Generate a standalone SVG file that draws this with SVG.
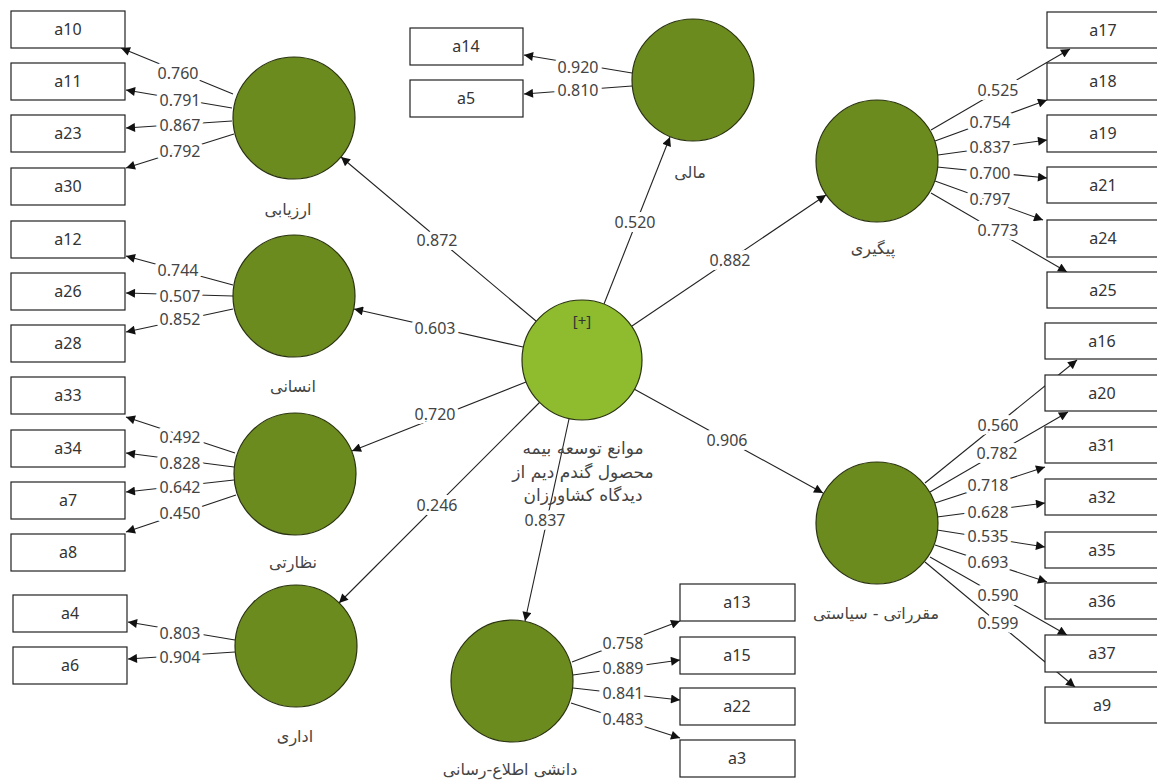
<svg xmlns="http://www.w3.org/2000/svg" width="1157" height="780" viewBox="0 0 1157 780">
<defs>
<marker id="ah" viewBox="0 0 10 10" refX="10" refY="5" markerWidth="10" markerHeight="9" markerUnits="userSpaceOnUse" orient="auto">
<path d="M0,0 L10,5 L0,10 z" fill="#111"/>
</marker>
<style>
text{font-family:"Noto Sans","DejaVu Sans",sans-serif;fill:#333;}
.box rect{fill:#fff;stroke:#222;stroke-width:1.2;}
.box text{font-size:16px;text-anchor:middle;}
.lv{fill:#6c8b1f;stroke:#2a3310;stroke-width:1.2;}
.ctr{fill:#8fbc2f;stroke:#2a3310;stroke-width:1.2;}
.nl{font-family:"DejaVu Sans",sans-serif;font-size:16px;text-anchor:middle;fill:#444;}
.cl{font-family:"DejaVu Sans",sans-serif;font-size:17px;text-anchor:middle;fill:#444;}
#connectors line{stroke:#222;stroke-width:1.1;marker-end:url(#ah);}
.w{font-size:16px;text-anchor:middle;fill:#444;stroke:#fff;stroke-width:8;paint-order:stroke;stroke-linejoin:round;}
</style>
</defs>
<rect width="1157" height="780" fill="#fff"/>

<g id="connectors">
<line x1="536" y1="321" x2="341" y2="157"/>
<line x1="523" y1="347" x2="354" y2="309"/>
<line x1="526" y1="382" x2="352" y2="451"/>
<line x1="540" y1="402" x2="339" y2="603"/>
<line x1="604" y1="304" x2="670" y2="137"/>
<line x1="632" y1="326" x2="826" y2="195"/>
<line x1="634" y1="389" x2="823" y2="493"/>
<line x1="569" y1="419" x2="525" y2="621"/>
<line x1="233" y1="94" x2="121" y2="48"/>
<line x1="232" y1="108" x2="126" y2="90"/>
<line x1="232" y1="121" x2="126" y2="128"/>
<line x1="234" y1="134" x2="126" y2="168"/>
<line x1="233" y1="285" x2="126" y2="256"/>
<line x1="233" y1="296" x2="126" y2="293"/>
<line x1="233" y1="309" x2="126" y2="332"/>
<line x1="235" y1="453" x2="126" y2="417"/>
<line x1="234" y1="467" x2="126" y2="453"/>
<line x1="234" y1="480" x2="126" y2="492"/>
<line x1="236" y1="495" x2="126" y2="532"/>
<line x1="235" y1="640" x2="128" y2="622"/>
<line x1="235" y1="652" x2="128" y2="659"/>
<line x1="632" y1="73" x2="524" y2="55"/>
<line x1="632" y1="86" x2="524" y2="94"/>
<line x1="572" y1="662" x2="680" y2="621"/>
<line x1="573" y1="675" x2="680" y2="660"/>
<line x1="573" y1="688" x2="680" y2="700"/>
<line x1="571" y1="703" x2="680" y2="738"/>
<line x1="931" y1="130" x2="1070" y2="49"/>
<line x1="935" y1="141" x2="1047" y2="100"/>
<line x1="938" y1="155" x2="1047" y2="140"/>
<line x1="937" y1="167" x2="1047" y2="178"/>
<line x1="935" y1="181" x2="1043" y2="220"/>
<line x1="931" y1="193" x2="1067" y2="272"/>
<line x1="925" y1="483" x2="1077" y2="360"/>
<line x1="930" y1="492" x2="1068" y2="412"/>
<line x1="935" y1="503" x2="1045" y2="467"/>
<line x1="937" y1="517" x2="1045" y2="503"/>
<line x1="937" y1="530" x2="1045" y2="547"/>
<line x1="935" y1="545" x2="1047" y2="582"/>
<line x1="930" y1="557" x2="1067" y2="635"/>
<line x1="925" y1="562" x2="1075" y2="687"/>
</g>

<g id="weights">
<text class="w" x="437" y="246">0.872</text>
<text class="w" x="435" y="334">0.603</text>
<text class="w" x="435" y="420">0.720</text>
<text class="w" x="437" y="511">0.246</text>
<text class="w" x="635" y="228">0.520</text>
<text class="w" x="730" y="266">0.882</text>
<text class="w" x="727" y="446">0.906</text>
<text class="w" x="545" y="526">0.837</text>
<text class="w" x="178" y="79">0.760</text>
<text class="w" x="180" y="106">0.791</text>
<text class="w" x="180" y="131">0.867</text>
<text class="w" x="180" y="157">0.792</text>
<text class="w" x="178" y="276">0.744</text>
<text class="w" x="180" y="302">0.507</text>
<text class="w" x="180" y="325">0.852</text>
<text class="w" x="180" y="443">0.492</text>
<text class="w" x="180" y="469">0.828</text>
<text class="w" x="180" y="493">0.642</text>
<text class="w" x="180" y="519">0.450</text>
<text class="w" x="180" y="639">0.803</text>
<text class="w" x="180" y="663">0.904</text>
<text class="w" x="578" y="73">0.920</text>
<text class="w" x="578" y="96">0.810</text>
<text class="w" x="623" y="649">0.758</text>
<text class="w" x="623" y="674">0.889</text>
<text class="w" x="623" y="699">0.841</text>
<text class="w" x="623" y="725">0.483</text>
<text class="w" x="998" y="96">0.525</text>
<text class="w" x="990" y="128">0.754</text>
<text class="w" x="990" y="153">0.837</text>
<text class="w" x="990" y="179">0.700</text>
<text class="w" x="990" y="205">0.797</text>
<text class="w" x="998" y="236">0.773</text>
<text class="w" x="998" y="431">0.560</text>
<text class="w" x="997" y="459">0.782</text>
<text class="w" x="988" y="491">0.718</text>
<text class="w" x="988" y="518">0.628</text>
<text class="w" x="988" y="542">0.535</text>
<text class="w" x="988" y="568">0.693</text>
<text class="w" x="998" y="601">0.590</text>
<text class="w" x="998" y="629">0.599</text>
</g>

<g id="n-center"><circle class="ctr" cx="582" cy="360" r="60"/><text x="582" y="326" style="font-size:15px;text-anchor:middle;fill:#333">[+]</text>
<text class="cl" x="583" y="454">موانع توسعه بیمه</text>
<text class="cl" x="583" y="478">محصول گندم دیم از</text>
<text class="cl" x="583" y="501">دیدگاه کشاورزان</text></g>
<g id="n-arzyabi"><circle class="lv" cx="294" cy="118" r="61"/><text class="nl" x="288" y="215">ارزیابی</text></g>
<g id="n-ensani"><circle class="lv" cx="294" cy="296" r="61"/><text class="nl" x="293" y="392">انسانی</text></g>
<g id="n-nezarati"><circle class="lv" cx="295" cy="474" r="61"/><text class="nl" x="293" y="568">نظارتی</text></g>
<g id="n-edari"><circle class="lv" cx="296" cy="646" r="61"/><text class="nl" x="295" y="742">اداری</text></g>
<g id="n-mali"><circle class="lv" cx="693" cy="80" r="61"/><text class="nl" x="690" y="178">مالی</text></g>
<g id="n-peygiri"><circle class="lv" cx="877" cy="161" r="61"/><text class="nl" x="873" y="254">پیگیری</text></g>
<g id="n-moghararati"><circle class="lv" cx="877" cy="523" r="61"/><text class="nl" x="876" y="619">مقرراتی - سیاستی</text></g>
<g id="n-daneshi"><circle class="lv" cx="512" cy="681" r="61"/><text class="nl" x="510" y="775">دانشی اطلاع-رسانی</text></g>

<g id="b-a10" class="box"><rect x="11" y="11" width="114" height="37"/><text x="68" y="35">a10</text></g>
<g id="b-a11" class="box"><rect x="11" y="63" width="114" height="37"/><text x="68" y="87">a11</text></g>
<g id="b-a23" class="box"><rect x="11" y="115" width="114" height="37"/><text x="68" y="139">a23</text></g>
<g id="b-a30" class="box"><rect x="11" y="168" width="114" height="37"/><text x="68" y="192">a30</text></g>
<g id="b-a12" class="box"><rect x="11" y="221" width="114" height="37"/><text x="68" y="245">a12</text></g>
<g id="b-a26" class="box"><rect x="11" y="273" width="114" height="37"/><text x="68" y="297">a26</text></g>
<g id="b-a28" class="box"><rect x="11" y="325" width="114" height="37"/><text x="68" y="349">a28</text></g>
<g id="b-a33" class="box"><rect x="11" y="377" width="114" height="37"/><text x="68" y="401">a33</text></g>
<g id="b-a34" class="box"><rect x="11" y="430" width="114" height="37"/><text x="68" y="454">a34</text></g>
<g id="b-a7" class="box"><rect x="11" y="482" width="114" height="37"/><text x="68" y="506">a7</text></g>
<g id="b-a8" class="box"><rect x="11" y="534" width="114" height="37"/><text x="68" y="558">a8</text></g>
<g id="b-a4" class="box"><rect x="13" y="595" width="114" height="37"/><text x="70" y="619">a4</text></g>
<g id="b-a6" class="box"><rect x="13" y="647" width="114" height="37"/><text x="70" y="671">a6</text></g>
<g id="b-a14" class="box"><rect x="410" y="28" width="113" height="37"/><text x="466" y="52">a14</text></g>
<g id="b-a5" class="box"><rect x="410" y="80" width="113" height="37"/><text x="466" y="104">a5</text></g>
<g id="b-a13" class="box"><rect x="680" y="584" width="115" height="37"/><text x="737" y="608">a13</text></g>
<g id="b-a15" class="box"><rect x="680" y="637" width="115" height="37"/><text x="737" y="661">a15</text></g>
<g id="b-a22" class="box"><rect x="680" y="688" width="115" height="37"/><text x="737" y="712">a22</text></g>
<g id="b-a3" class="box"><rect x="680" y="740" width="115" height="37"/><text x="737" y="764">a3</text></g>
<g id="b-a17" class="box"><rect x="1047" y="12" width="114" height="36"/><text x="1103" y="36">a17</text></g>
<g id="b-a18" class="box"><rect x="1047" y="63" width="114" height="37"/><text x="1103" y="87">a18</text></g>
<g id="b-a19" class="box"><rect x="1047" y="115" width="114" height="37"/><text x="1103" y="139">a19</text></g>
<g id="b-a21" class="box"><rect x="1047" y="167" width="114" height="36"/><text x="1103" y="191">a21</text></g>
<g id="b-a24" class="box"><rect x="1047" y="220" width="114" height="37"/><text x="1103" y="244">a24</text></g>
<g id="b-a25" class="box"><rect x="1047" y="272" width="114" height="36"/><text x="1103" y="296">a25</text></g>
<g id="b-a16" class="box"><rect x="1045" y="323" width="116" height="36"/><text x="1102" y="347">a16</text></g>
<g id="b-a20" class="box"><rect x="1045" y="375" width="116" height="36"/><text x="1102" y="399">a20</text></g>
<g id="b-a31" class="box"><rect x="1045" y="427" width="116" height="36"/><text x="1102" y="451">a31</text></g>
<g id="b-a32" class="box"><rect x="1045" y="479" width="116" height="36"/><text x="1102" y="503">a32</text></g>
<g id="b-a35" class="box"><rect x="1045" y="532" width="116" height="36"/><text x="1102" y="556">a35</text></g>
<g id="b-a36" class="box"><rect x="1045" y="583" width="116" height="36"/><text x="1102" y="607">a36</text></g>
<g id="b-a37" class="box"><rect x="1045" y="635" width="116" height="37"/><text x="1102" y="659">a37</text></g>
<g id="b-a9" class="box"><rect x="1045" y="687" width="116" height="36"/><text x="1102" y="711">a9</text></g>
</svg>
